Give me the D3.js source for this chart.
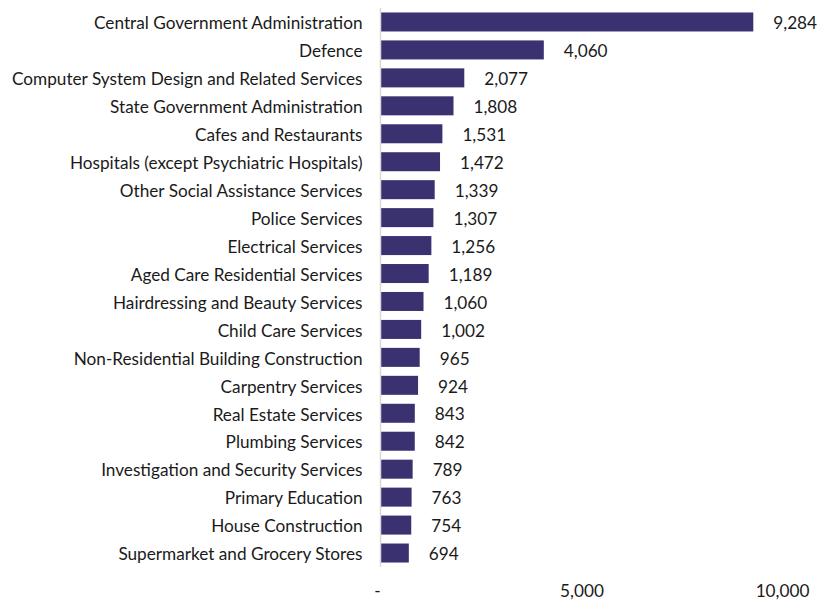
<!DOCTYPE html>
<html>
<head>
<meta charset="utf-8">
<script src="https://cdn.jsdelivr.net/npm/d3@7"></script>
<style>
  html, body { margin: 0; padding: 0; background: #fff; }
  svg text { font-family: Lato, "Open Sans", sans-serif; fill: #1a1a1a; }
</style>
</head>
<body>
<svg id="chart" width="819" height="605"></svg>
<script>
const categories = [
  "Central Government Administration",
  "Defence",
  "Computer System Design and Related Services",
  "State Government Administration",
  "Cafes and Restaurants",
  "Hospitals (except Psychiatric Hospitals)",
  "Other Social Assistance Services",
  "Police Services",
  "Electrical Services",
  "Aged Care Residential Services",
  "Hairdressing and Beauty Services",
  "Child Care Services",
  "Non-Residential Building Construction",
  "Carpentry Services",
  "Real Estate Services",
  "Plumbing Services",
  "Investigation and Security Services",
  "Primary Education",
  "House Construction",
  "Supermarket and Grocery Stores"
];
const values = [9284, 4060, 2077, 1808, 1531, 1472, 1339, 1307, 1256, 1189,
                1060, 1002, 965, 924, 843, 842, 789, 763, 754, 694];
const tickValues = [0, 5000, 10000];
const tickLabels = ["-", "5,000", "10,000"];

const svg = d3.select("#chart");
const plotLeft = 381, plotRight = 782, plotTop = 8, plotBottom = 567;
const fontSize = 17.2;

const x = d3.scaleLinear().domain([0, 10000]).range([plotLeft, plotRight]);
const y = d3.scaleBand().domain(categories).range([plotTop, plotBottom])
  .paddingInner(0.32).paddingOuter(0.16);

const fmt = d3.format(",");

// bars
svg.append("g").selectAll("rect")
  .data(values)
  .join("rect")
  .attr("x", x(0))
  .attr("y", (d, i) => y(categories[i]))
  .attr("width", d => x(d) - x(0))
  .attr("height", y.bandwidth())
  .attr("fill", "#3a3170");

// value labels
svg.append("g").selectAll("text")
  .data(values)
  .join("text")
  .attr("x", d => x(d) + 20)
  .attr("y", (d, i) => y(categories[i]) + y.bandwidth() / 2)
  .attr("dy", "0.42em")
  .attr("font-size", fontSize)
  .text(d => fmt(d));

// category axis
const yAxis = svg.append("g")
  .attr("transform", `translate(${plotLeft - 0.5},0)`)
  .call(d3.axisLeft(y).tickSize(0).tickPadding(18));
yAxis.select(".domain").attr("stroke", "#d9d9d9").attr("stroke-width", 1.5)
  .attr("d", `M0,${plotTop}V${plotBottom}`);
yAxis.selectAll("text").attr("font-size", fontSize).attr("fill", "#1a1a1a")
  .attr("dy", "0.42em")
  .style("font-family", "Lato, 'Open Sans', sans-serif");

// value axis
const xAxis = svg.append("g")
  .attr("transform", `translate(0,${plotBottom})`)
  .call(d3.axisBottom(x).tickValues(tickValues).tickSize(0).tickPadding(18)
    .tickFormat((d, i) => tickLabels[i]));
xAxis.select(".domain").remove();
xAxis.selectAll("text").attr("font-size", fontSize).attr("fill", "#1a1a1a")
  .attr("dx", d => d === 0 ? -4 : 0)
  .style("font-family", "Lato, 'Open Sans', sans-serif");
</script>
</body>
</html>
